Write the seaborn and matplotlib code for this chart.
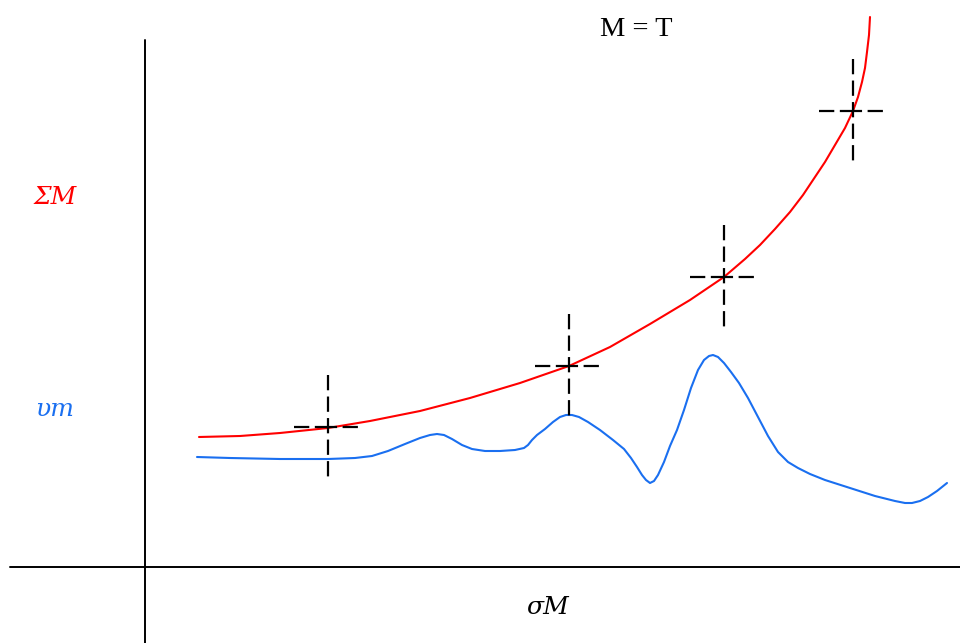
import numpy as np
import pandas as pd
import matplotlib
matplotlib.use("Agg")
import matplotlib.pyplot as plt
import seaborn as sns

# curve samples (pixel space, y grows downward)
red_x = [199, 240, 280, 328, 370, 420, 470, 520, 569, 610, 650, 690, 724, 745, 760, 775, 790, 803, 815,
         825, 835, 845, 853, 858, 862, 865, 867, 869, 870]
red_y = [437, 436, 433, 428, 421, 411, 398, 383, 366, 347, 324, 300, 277, 259, 245, 229, 212, 195, 177,
         162, 145, 128, 111, 97, 82, 68, 52, 35, 17]

blue_x = [197, 230, 280, 328, 355, 372, 388, 405, 420, 430, 437, 444, 452, 462, 472, 485, 500, 515, 524,
          528, 532, 537, 545, 553, 560, 566, 572, 579, 588, 600, 613, 624, 631, 637, 642, 646, 650, 654, 658,
          664, 670, 677, 684, 691, 698, 704, 709, 713, 718, 724, 731, 739, 748, 758, 768, 778, 788, 798,
          810, 825, 850, 875, 895, 905, 912, 920, 928, 937, 947]
blue_y = [457, 458, 459, 459, 458, 456, 451, 444, 438, 435, 434, 435, 439, 445, 449, 451, 451, 450, 448,
          445, 440, 435, 429, 422, 417, 415, 415, 417, 422, 430, 440, 449, 458, 467, 475, 480, 483, 481, 475,
          462, 446, 430, 410, 388, 370, 360, 356, 355, 357, 363, 372, 383, 398, 417, 436, 452, 462, 468,
          474, 480, 488, 496, 501, 503, 503, 501, 497, 491, 483]

# cross markers on the red curve
cross_x = [328, 569, 724, 853]
cross_y = [427, 366, 277, 111]
cross_half_w = 34
cross_half_h = 52

labels = {"title": "M = T", "sum": "ΣM", "nu": "υm", "sigma": "σM"}

sns.set_style("white")
plt.rcParams["lines.scale_dashes"] = False

fig = plt.figure(figsize=(9.6, 6.43), dpi=100)
ax = fig.add_axes([0, 0, 1, 1])
ax.set_xlim(0, 960)
ax.set_ylim(643, 0)
ax.axis("off")

red_df = pd.DataFrame({"x": red_x, "y": red_y})
blue_df = pd.DataFrame({"x": blue_x, "y": blue_y})
sns.lineplot(data=red_df, x="x", y="y", sort=False, color="#ff0000", lw=1.5, ax=ax)
sns.lineplot(data=blue_df, x="x", y="y", sort=False, color="#1a6ff0", lw=1.5, ax=ax)

# schematic axes
ax.plot([145, 145], [40, 643], color="black", lw=1.4)
ax.plot([10, 960], [567, 567], color="black", lw=1.4)

for cx, cy in zip(cross_x, cross_y):
    ax.plot([cx - cross_half_w, cx + cross_half_w + 2], [cy, cy], color="black", lw=1.6,
            dashes=(11, 4, 16, 4, 11, 7, 1.5, 6))
    ax.plot([cx, cx], [cy - cross_half_h, cy + cross_half_h], color="black", lw=1.6,
            dashes=(11, 4.5))

ax.text(636, 30, labels["title"], fontsize=20.5, family="Liberation Serif", color="black",
        ha="center", va="center")
ax.text(55, 197, labels["sum"], fontsize=18, family="DejaVu Serif", style="italic",
        color="#ff0000", ha="center", va="center")
ax.text(55, 410, labels["nu"], fontsize=18, family="DejaVu Serif", style="italic",
        color="#1a6ff0", ha="center", va="center")
ax.text(548, 607, labels["sigma"], fontsize=18, family="DejaVu Serif", style="italic",
        color="black", ha="center", va="center")

fig.savefig("out.png", dpi=100)
